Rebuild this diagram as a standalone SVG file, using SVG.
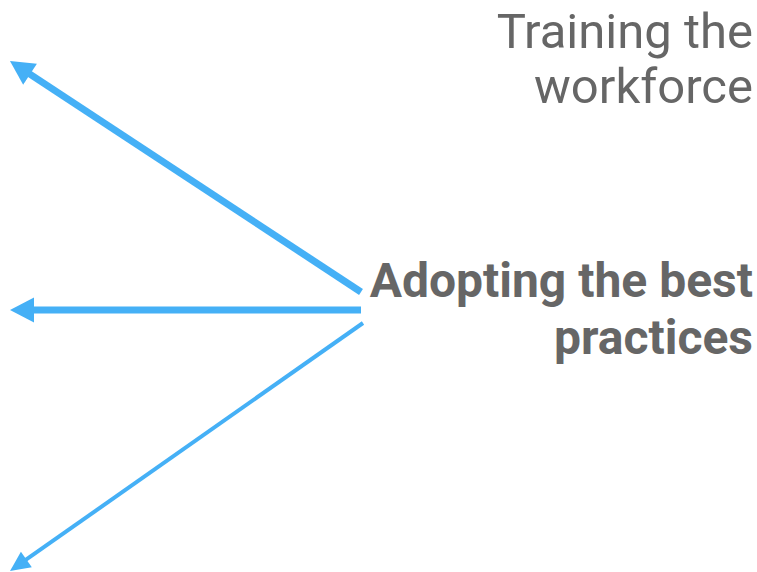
<svg xmlns="http://www.w3.org/2000/svg" width="757" height="572" viewBox="0 0 757 572">
<style>
.lbl{font-family:Roboto,"Liberation Sans",sans-serif;fill:#666666;text-anchor:end;font-size:49px}
.bold{font-weight:bold;font-size:48px}
.conn{stroke:#45b0f6;fill:none}
</style>
<defs>
<marker id="big" markerUnits="userSpaceOnUse" markerWidth="26" markerHeight="26" viewBox="0 -13 25 26" refX="12" refY="0" orient="auto">
<path d="M0,-12.5 L24,0 L0,12.5 z" fill="#45b0f6"/>
</marker>
<marker id="small" markerUnits="userSpaceOnUse" markerWidth="22" markerHeight="22" viewBox="0 -11 21 22" refX="10" refY="0" orient="auto">
<path d="M0,-9.5 L20,0 L0,9.5 z" fill="#45b0f6"/>
</marker>
</defs>
<g id="connectors">
<path class="conn" stroke-width="7" d="M361,292 L20,67.6" marker-end="url(#big)"/>
<path class="conn" stroke-width="7" d="M361,310 L22,310" marker-end="url(#big)"/>
<path class="conn" stroke-width="4" d="M363,323 L18.2,565.2" marker-end="url(#small)"/>
</g>
<g id="training">
<text class="lbl" x="753" y="48">Training the</text>
<text class="lbl" x="753" y="103">workforce</text>
</g>
<g id="adopting">
<text class="lbl bold" x="753" y="297">Adopting the best</text>
<text class="lbl bold" x="753" y="354">practices</text>
</g>
</svg>
